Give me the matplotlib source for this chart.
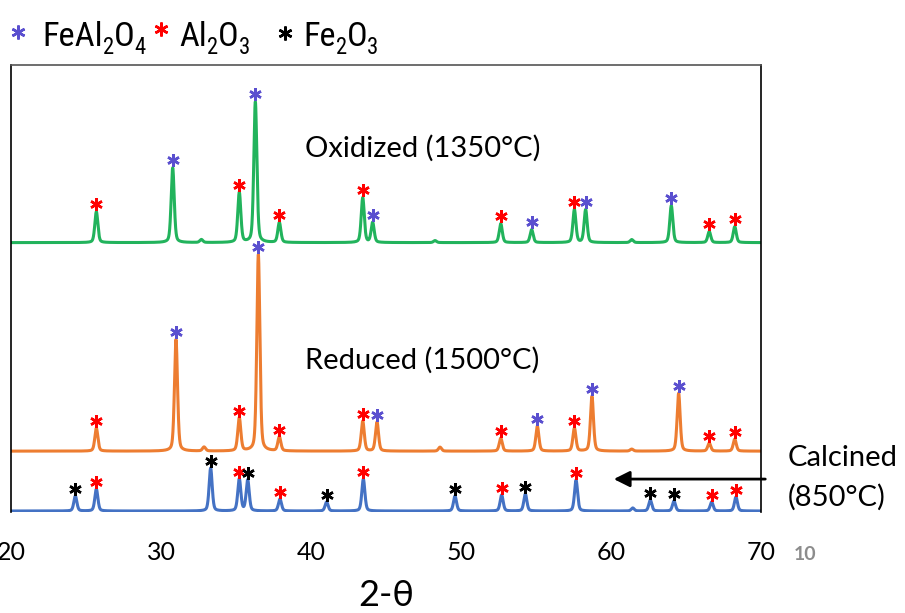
import numpy as np
import matplotlib
matplotlib.use("Agg")
import matplotlib.pyplot as plt
from matplotlib import font_manager as fm
from matplotlib.font_manager import FontProperties

plt.rcParams['font.family'] = ['Lato', 'DejaVu Sans']

# ---------------- data (2-theta positions, peak heights, phase) ----------------
# phase codes: 'S' = FeAl2O4 (spinel), 'A' = Al2O3, 'F' = Fe2O3, '' = unlabelled
ox_pos = [25.69, 30.78, 32.69, 35.22, 36.29, 37.89, 43.45, 44.11, 48.27,
          52.65, 54.71, 57.56, 58.31, 61.38, 64.02, 66.55, 68.25]
ox_h = [31, 75, 3, 50, 141, 20, 45, 20, 2,
        19, 13, 33, 33, 3, 37, 11, 16]
ox_ph = ['A', 'S', '', 'A', 'S', 'A', 'A', 'S', '',
         'A', 'S', 'A', 'S', '', 'S', 'A', 'A']

red_pos = [25.69, 31.00, 32.87, 35.22, 36.49, 37.89, 43.45, 44.40, 48.60,
           52.65, 55.09, 57.56, 58.73, 61.38, 64.51, 66.55, 68.25]
red_h = [23, 112, 4, 33, 197, 14, 30, 29, 4,
         13, 25, 23, 55, 2, 58, 8, 12]
red_ph = ['A', 'S', '', 'A', 'S', 'A', 'A', 'S', '',
          'A', 'S', 'A', 'S', '', 'S', 'A', 'A']

cal_pos = [24.29, 25.69, 33.31, 35.22, 35.78, 37.93, 41.04, 43.49,
           49.60, 52.71, 54.29, 57.67, 61.45, 62.62, 64.20, 66.71, 68.33]
cal_h = [15, 22, 43, 32, 31, 12, 9, 32,
         15, 16, 17, 31, 3, 11, 10, 9, 14]
cal_ph = ['F', 'A', 'F', 'A', 'F', 'A', 'F', 'A',
          'F', 'A', 'F', 'A', '', 'F', 'F', 'A', 'A']

offsets = {'ox': 269, 'red': 60, 'cal': 0}
xticks = [20, 30, 40, 50, 60, 70]

# legend labels as (text, is_subscript) pieces
legend_labels = [[('FeAl', False), ('2', True), ('O', False), ('4', True)],
                 [('Al', False), ('2', True), ('O', False), ('3', True)],
                 [('Fe', False), ('2', True), ('O', False), ('3', True)]]
legend_phases = ['S', 'A', 'F']

line_colors = {'ox': '#22b35c', 'red': '#ed7d31', 'cal': '#4472c4'}
star_colors = {'S': '#5a4fcf', 'A': '#ff0000', 'F': '#000000'}


def pick_narrow_font():
    cond = ('condensed', 'semi-condensed', 'extra-condensed', 'ultra-condensed')
    best = None
    for f in fm.fontManager.ttflist:
        name = f.name
        if 'Mono' in name or 'Serif' in name or 'CJK' in name:
            continue
        if f.style != 'normal':
            continue
        w = f.weight if isinstance(f.weight, int) else 400
        if w not in (400, 'normal', 'regular', 'book'):
            continue
        if ('Narrow' in name or 'Condensed' in name or str(f.stretch) in cond):
            score = 0 if 'Liberation' in name else (1 if 'Roboto' in name else 2)
            if best is None or score < best[0]:
                best = (score, f.fname)
    if best:
        return FontProperties(fname=best[1])
    return FontProperties(family='Lato')


def profile(x, pos, h, w=0.24):
    y = np.zeros_like(x)
    for p, a in zip(pos, h):
        lor = 1.0 / (1.0 + ((x - p) / (w / 2)) ** 2)
        gau = np.exp(-4 * np.log(2) * ((x - p) / w) ** 2)
        y += a * (0.35 * lor + 0.65 * gau)
    return y


fig = plt.figure(figsize=(9.05, 6.13), dpi=100)
ax = fig.add_axes([11 / 905, 101 / 613, 750 / 905, 447 / 613])

x = np.linspace(20, 70, 6000)
series = [('ox', ox_pos, ox_h, ox_ph), ('red', red_pos, red_h, red_ph),
          ('cal', cal_pos, cal_h, cal_ph)]
for key, pos, h, ph in series:
    base = offsets[key]
    ax.plot(x, base + profile(x, pos, h), color=line_colors[key], lw=2.2,
            solid_joinstyle='round')
    for p, a, c in zip(pos, h, ph):
        if c:
            ax.plot(p, base + a + 7.5, marker=(6, 2, 0), ms=9, mew=1.8,
                    color=star_colors[c], linestyle='none')

ax.set_xlim(20, 70)
ax.set_ylim(-1, 447)
ax.set_xticks(xticks)
ax.set_xticklabels([str(t) for t in xticks], fontsize=18)
ax.tick_params(axis='x', length=0, pad=21)
ax.set_yticks([])
ax.spines['bottom'].set_visible(False)
ax.spines['top'].set_color('#555555')
for s in ['left', 'right']:
    ax.spines[s].set_color('black')
for s in ax.spines.values():
    s.set_linewidth(1.2)

ax.set_xlabel('2-θ', fontsize=26, labelpad=11)

ax.text(39.6, 364, 'Oxidized (1350°C)', fontsize=21, va='center', ha='left')
ax.text(39.6, 151, 'Reduced (1500°C)', fontsize=21, va='center', ha='left')

# calcined annotation with arrow
ax.annotate('', xy=(60.0, 32), xytext=(70.47, 32), xycoords='data',
            annotation_clip=False,
            arrowprops=dict(arrowstyle='-|>', color='black', lw=2,
                            mutation_scale=24))
fig.text(788 / 905, 1 - 458 / 613, 'Calcined', fontsize=21, va='center', ha='left')
fig.text(788 / 905, 1 - 497 / 613, '(850°C)', fontsize=21, va='center', ha='left')

fig.text(805 / 905, 1 - 555 / 613, '10', fontsize=14, color='#8c8c8c',
         fontweight='bold', va='center', ha='center')

# legend at top
FW, FH = 905.0, 613.0
star_xy = [(18, 32), (161, 29), (285, 33)]
text_x = [42, 179, 303]
text_w = [85, 58, 62]
baseline_y = 46
fp_base = pick_narrow_font()
renderer = fig.canvas.get_renderer()


def draw_label(pieces, x0, size):
    objs = []
    xcur = x0
    for txt, sub in pieces:
        fp = fp_base.copy()
        fs = size * 0.66 if sub else size
        fp.set_size(fs)
        yb = baseline_y + (size * 0.32 if sub else 0)
        t = fig.text(xcur / FW, 1 - yb / FH, txt, fontproperties=fp,
                     va='baseline', ha='left')
        w = t.get_window_extent(renderer).width
        xcur += w
        objs.append(t)
    return objs, xcur - x0


for (sx, sy), c, pieces, tx, tw in zip(star_xy, legend_phases, legend_labels,
                                        text_x, text_w):
    fig.lines.append(plt.Line2D([sx / FW], [1 - sy / FH], marker=(6, 2, 0),
                                ms=10, mew=1.8, color=star_colors[c],
                                transform=fig.transFigure, linestyle='none'))
    size = 30
    objs, width = draw_label(pieces, tx, size)
    limit = tw * 1.22
    if width > limit:
        for o in objs:
            o.remove()
        size = size * limit / width
        draw_label(pieces, tx, size)

fig.savefig('out.png', dpi=100)
